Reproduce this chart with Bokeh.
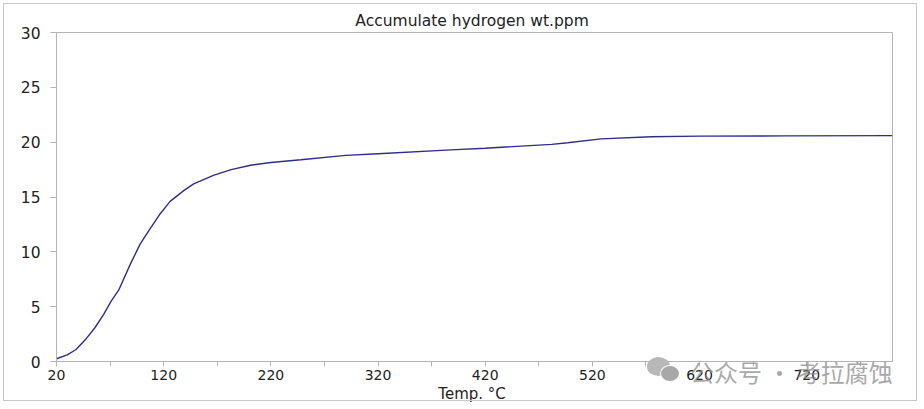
from bokeh.plotting import figure
from bokeh.models import Range1d, FixedTicker
from bokeh.embed import file_html
from bokeh.resources import INLINE

# Data
temps = [20, 30, 38, 47, 56, 64, 71, 78, 89, 98, 108, 117, 126, 139, 148, 167,
         183, 201, 220, 248, 290, 320, 388, 420, 482, 497, 528, 575, 620, 700, 800]
hydrogen = [0.25, 0.6, 1.07, 2.0, 3.1, 4.3, 5.5, 6.5, 8.9, 10.7, 12.2, 13.5, 14.6,
            15.6, 16.2, 17.0, 17.5, 17.9, 18.15, 18.4, 18.8, 18.95, 19.3, 19.45,
            19.8, 19.95, 20.3, 20.5, 20.55, 20.57, 20.6]

x_major = [20, 120, 220, 320, 420, 520, 620, 720]
x_minor = [70, 170, 270, 370, 470, 570, 670, 770]
y_major = [0, 5, 10, 15, 20, 25, 30]

title_text = "Accumulate hydrogen  wt.ppm"
xlabel_text = "Temp.  \u00b0C"
watermark_text = "公众号 · 考拉腐蚀"

FONT = "DejaVu Sans"

p = figure(width=921, height=406, output_backend="svg", toolbar_location=None,
           x_range=Range1d(20, 800), y_range=Range1d(0, 30),
           min_border_left=56, min_border_right=29, min_border_top=32,
           min_border_bottom=45)

p.xgrid.visible = False
p.ygrid.visible = False
p.outline_line_color = "#b4b4b4"
p.outline_line_width = 1
p.background_fill_color = "white"
p.border_fill_color = "white"

p.title.text = title_text
p.title.align = "center"
p.title.text_font = FONT
p.title.text_font_size = "15.5px"
p.title.text_font_style = "normal"
p.title.text_color = "#222222"
p.title.standoff = 5

p.line(temps, hydrogen, line_color="#2e2e8a", line_width=1.4)

xa = p.xaxis[0]
xa.ticker = FixedTicker(ticks=x_major, minor_ticks=x_minor)
xa.axis_line_color = "#b4b4b4"
xa.major_tick_line_color = "#b4b4b4"
xa.minor_tick_line_color = "#b4b4b4"
xa.major_tick_out = 5
xa.major_tick_in = 0
xa.minor_tick_out = 5
xa.minor_tick_in = 0
xa.major_label_standoff = 3
xa.major_label_text_font = FONT
xa.major_label_text_font_size = "14px"
xa.major_label_text_color = "#222222"
xa.axis_label = xlabel_text
xa.axis_label_text_font = FONT
xa.axis_label_text_font_size = "15px"
xa.axis_label_text_font_style = "normal"
xa.axis_label_text_color = "#222222"
xa.axis_label_standoff = 2

ya = p.yaxis[0]
ya.ticker = FixedTicker(ticks=y_major)
ya.axis_line_color = "#b4b4b4"
ya.major_tick_line_color = "#b4b4b4"
ya.minor_tick_line_color = None
ya.major_tick_out = 6
ya.major_tick_in = 0
ya.major_label_standoff = 10
ya.major_label_text_font = FONT
ya.major_label_text_font_size = "15.5px"
ya.major_label_text_color = "#222222"

try:
    from bokeh.models.dom import Div as DomDiv
    frame_box = DomDiv(style={"position": "absolute", "left": "3px", "top": "3px",
                              "width": "914px", "height": "398px",
                              "box-sizing": "border-box",
                              "border": "1px solid #c8c8c8",
                              "pointer-events": "none", "z-index": "4"})
    bubble1 = DomDiv(style={"position": "absolute", "left": "647px", "top": "357px",
                            "width": "23px", "height": "19px", "border-radius": "50%",
                            "background": "#b8b8b8", "z-index": "5"})
    bubble2 = DomDiv(style={"position": "absolute", "left": "660px", "top": "365px",
                            "width": "20px", "height": "17px", "border-radius": "50%",
                            "background": "#a8a8a8", "border": "1px solid white",
                            "z-index": "5"})
    wm = DomDiv(style={"position": "absolute", "left": "690px", "top": "356px",
                       "font-family": "Noto Sans CJK SC", "font-size": "24px",
                       "line-height": "32px", "color": "rgba(140,140,140,0.75)",
                       "white-space": "pre", "z-index": "5"},
                children=[watermark_text])
    p.elements = [frame_box, bubble1, bubble2, wm]
except Exception:
    pass

open("out.html", "w").write(file_html(p, INLINE))
